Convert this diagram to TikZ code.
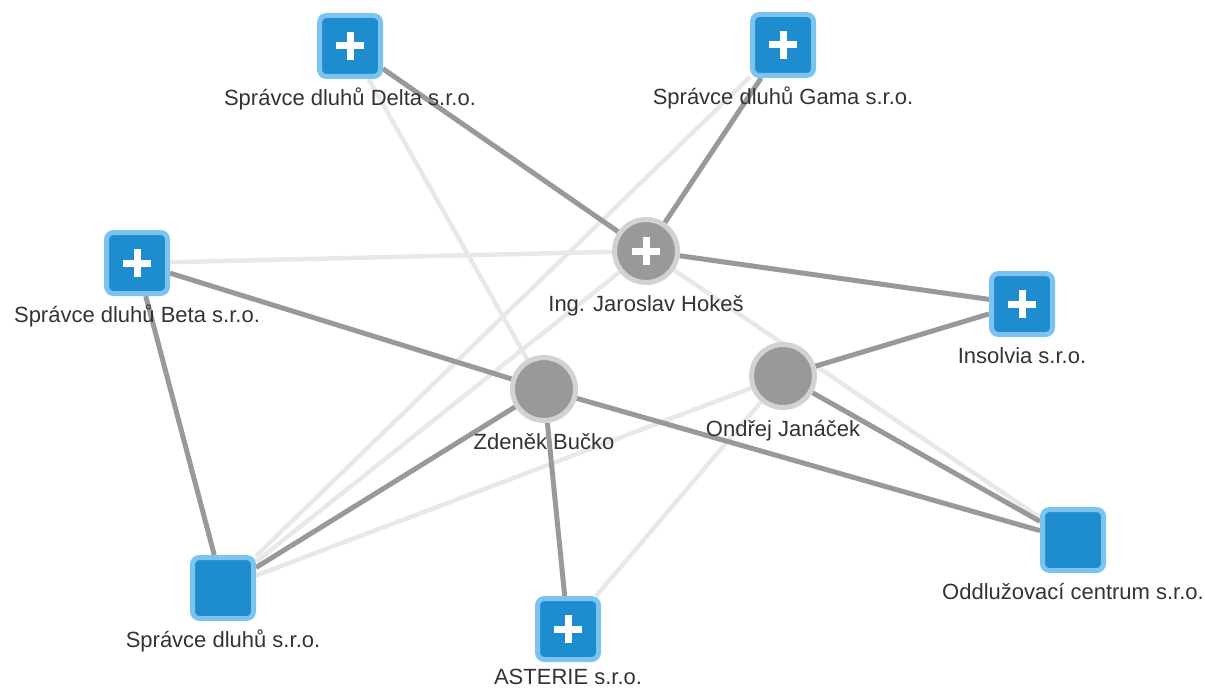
\documentclass[tikz,border=0pt]{standalone}
\usepackage{fontspec}
\setmainfont{Liberation Sans}
\usepackage{tikz}
\usepackage{xcolor}
\usetikzlibrary{positioning,backgrounds}
\definecolor{dbblue}{HTML}{1E8DD0}
\definecolor{dbsky}{HTML}{7CC4EE}
\definecolor{dbgray}{HTML}{999999}
\definecolor{dbring}{HTML}{D2D2D2}
\definecolor{dbtie}{HTML}{999999}
\definecolor{dbfaint}{HTML}{E8E8E8}
\definecolor{dbink}{HTML}{333333}
\tikzset{
  firm/.style={draw=dbsky, line width=5pt, fill=dbblue, rounded corners=7pt,
    minimum size=61pt, inner sep=0pt},
  person/.style={circle, draw=dbring, line width=5pt, fill=dbgray,
    minimum size=63pt, inner sep=0pt},
  withplus/.style={path picture={
    \draw[white, line width=7pt] ([xshift=-14pt]path picture bounding box.center)
      -- ([xshift=14pt]path picture bounding box.center);
    \draw[white, line width=7pt] ([yshift=-14pt]path picture bounding box.center)
      -- ([yshift=14pt]path picture bounding box.center);}},
  firmplus/.style={firm, withplus},
  personplus/.style={person, withplus},
  caption/.style={text=dbink, inner sep=0pt, text height=16pt, text depth=5pt},
  tie/.style={draw=dbtie, line width=5pt},
  weaktie/.style={draw=dbfaint, line width=4.5pt}
}

\begin{document}
\begin{tikzpicture}[x=1pt, y=-1pt, font=\fontsize{22}{26}\selectfont, node distance=10pt]
\useasboundingbox (0,0) rectangle (1205,690);
\node[firmplus] (delta) at (350,46) {};
\node[firmplus] (gama) at (783,45) {};
\node[firmplus] (beta) at (137,263) {};
\node[firmplus] (insolvia) at (1022,304) {};
\node[firm] (oddluz) at (1073,540) {};
\node[firm] (spravce) at (223,588) {};
\node[firmplus] (asterie) at (568,629) {};
\node[personplus] (hokes) at (646,251) {};
\node[person] (bucko) at (544,389) {};
\node[person] (janacek) at (783,376) {};
\node[caption, below=of delta] (deltalbl) {Správce dluhů Delta s.r.o.};
\node[caption, below=of gama] (gamalbl) {Správce dluhů Gama s.r.o.};
\node[caption, below=of beta] (betalbl) {Správce dluhů Beta s.r.o.};
\node[caption, below=of insolvia] (insolvialbl) {Insolvia s.r.o.};
\node[caption, below=of oddluz] (oddluzlbl) {Oddlužovací centrum s.r.o.};
\node[caption, below=of spravce] (spravcelbl) {Správce dluhů s.r.o.};
\node[caption, below=6pt of asterie] (asterielbl) {ASTERIE s.r.o.};
\node[caption, below=of hokes] (hokeslbl) {Ing. Jaroslav Hokeš};
\node[caption, below=of bucko] (buckolbl) {Zdeněk Bučko};
\node[caption, below=of janacek] (janaceklbl) {Ondřej Janáček};
\begin{scope}[on background layer]
% former ties
\draw[weaktie] (beta) -- (hokes);
\draw[weaktie] (delta) -- (bucko);
\draw[weaktie] (gama) -- (spravce);
\draw[weaktie] (hokes) -- (spravce);
\draw[weaktie] (janacek) -- (spravce);
\draw[weaktie] (janacek) -- (asterie);
\draw[weaktie] (hokes) -- (oddluz);
% current ties
\draw[tie] (delta) -- (hokes);
\draw[tie] (gama) -- (hokes);
\draw[tie] (hokes) -- (insolvia);
\draw[tie] (beta) -- (bucko);
\draw[tie] (beta) -- (spravce);
\draw[tie] (bucko) -- (spravce);
\draw[tie] (bucko) -- (asterie);
\draw[tie] (bucko) -- (oddluz);
\draw[tie] (janacek) -- (insolvia);
\draw[tie] (janacek) -- (oddluz);
\end{scope}
\end{tikzpicture}
\end{document}
